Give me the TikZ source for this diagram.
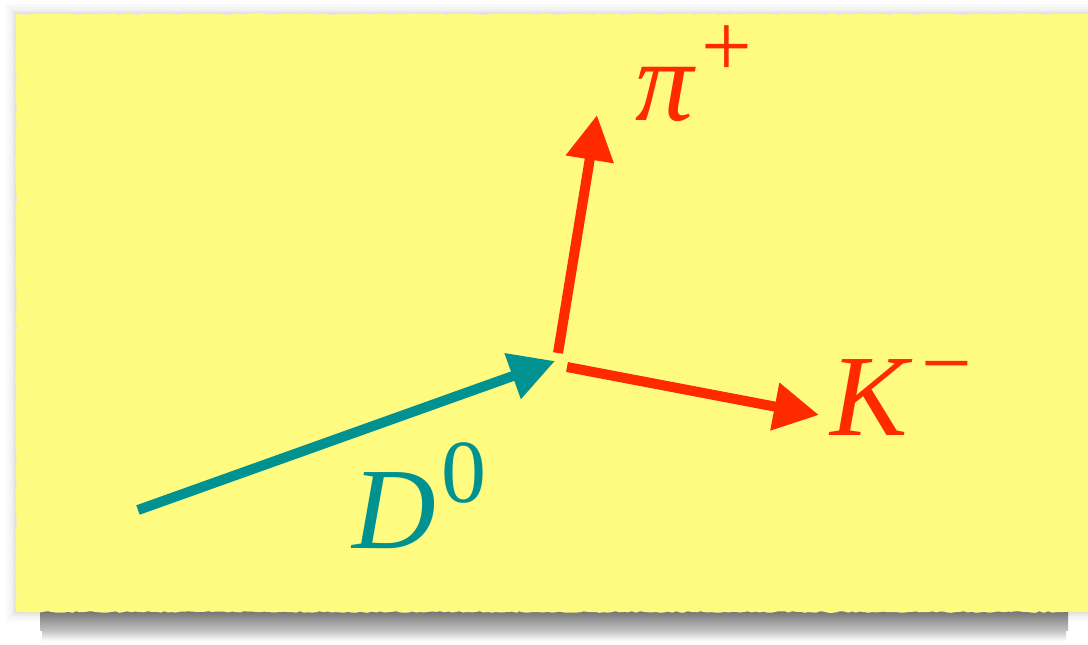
\documentclass[tikz,border=0pt]{standalone}
\usepackage{fontspec}
\setmainfont{Liberation Serif}
\usetikzlibrary{arrows.meta,decorations.pathmorphing,shadings}
\definecolor{paper}{HTML}{FFFA80}
\definecolor{teal0}{HTML}{009191}
\definecolor{redk}{HTML}{FF2A00}
\tikzset{
  track/.style={line width=10pt,-{Triangle[length=45pt,width=46pt]}},
  dtrack/.style={track,color=teal0},
  ptrack/.style={track,color=redk},
  lbl/.style={inner sep=0pt,anchor=base west,font=\fontsize{116}{120}\selectfont\itshape},
}
\newcommand{\supr}[3]{\kern#1\raisebox{#2}{\fontsize{90}{92}\selectfont\upshape #3}}
\begin{document}
\begin{tikzpicture}[x=1pt,y=-1pt]
\useasboundingbox (0,0) rectangle (1088,645);
\fill[white] (0,0) rectangle (1088,645);
% soft halo
\foreach \i/\o in {10/0.02,7/0.025,4/0.03,2/0.04}{
  \fill[black,opacity=\o] (16-\i,14-\i) rectangle (1100,612+\i);
}
% bottom shadow
\shade[top color=black!62,bottom color=black!25] (40,606) rectangle (1068,630);
\shade[top color=black!25,bottom color=white] (42,630) rectangle (1066,641);
% paper
\fill[paper,decorate,decoration={random steps,segment length=4pt,amplitude=0.8pt}]
  (16,14) -- (1100,14) -- (1100,612) -- (16,612) -- cycle;
% tracks
\coordinate (dstart) at (138,510);
\coordinate (dtip) at (555,361);
\coordinate (pstart) at (558,353);
\coordinate (ptip) at (597,115);
\coordinate (kstart) at (567,367);
\coordinate (ktip) at (819,415);
\draw[dtrack] (dstart) -- (dtip);
\draw[ptrack] (pstart) -- (ptip);
\draw[ptrack] (kstart) -- (ktip);
% labels
\node[lbl,text=redk] (pi) at (635,120) {π\supr{8pt}{44pt}{+}};
\node[lbl,text=redk] (K) at (830,435) {K\supr{14pt}{42pt}{−}};
\node[lbl,text=teal0] (D) at (352,548) {D\supr{6pt}{46pt}{0}};
\end{tikzpicture}
\end{document}
